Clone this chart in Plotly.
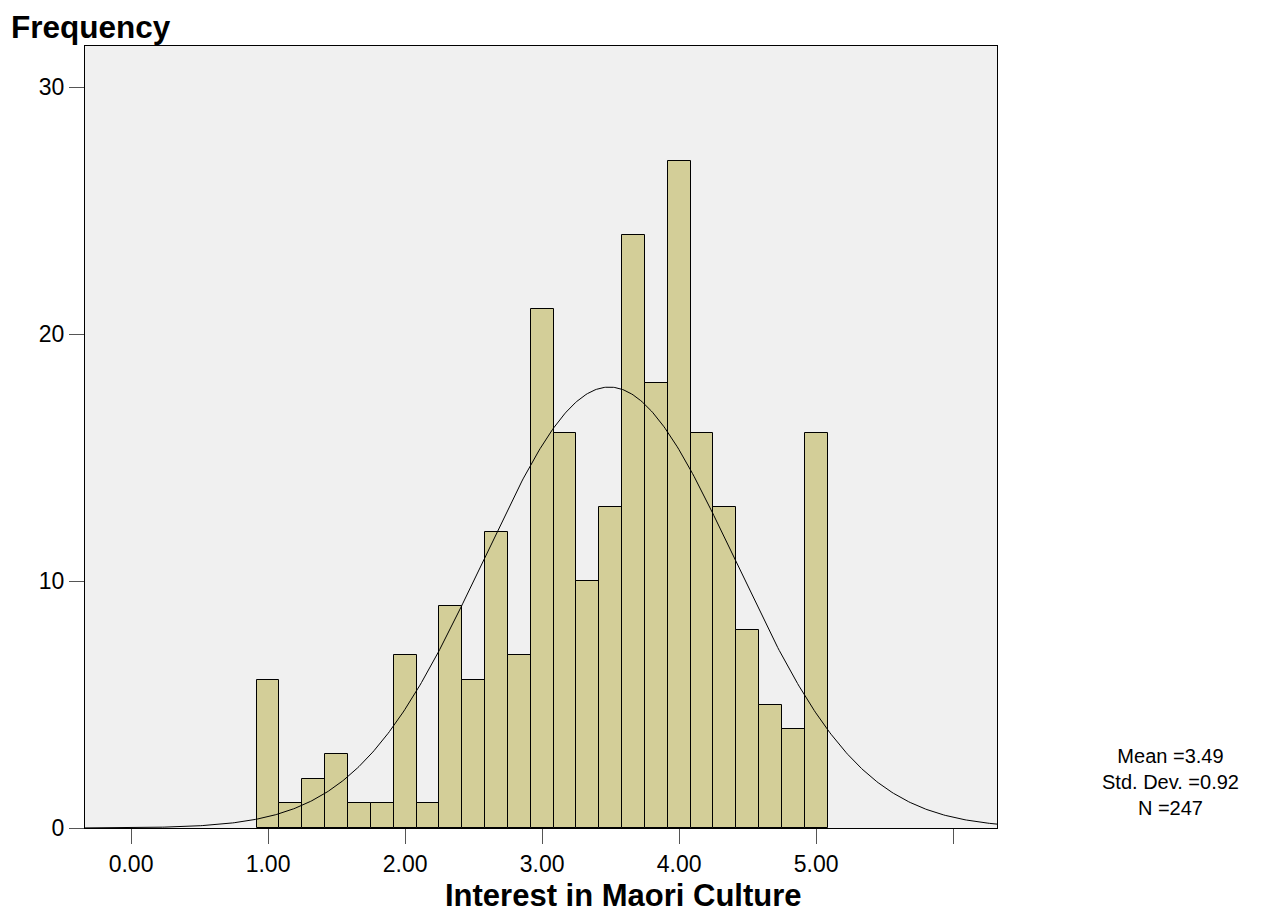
import numpy as np
import plotly.graph_objects as go

bin_centers = [1 + i / 6 for i in range(25)]
counts = [6, 1, 2, 3, 1, 1, 7, 1, 9, 6, 12, 7, 21, 16, 10, 13, 24, 18, 27, 16, 13, 8, 5, 4, 16]
bin_width = 1 / 6
mean_val = 3.49
sd_val = 0.92
n_val = 247
x_tick_vals = [0, 1, 2, 3, 4, 5, 6]
x_tick_text = ["0.00", "1.00", "2.00", "3.00", "4.00", "5.00", ""]
y_tick_vals = [0, 10, 20, 30]
stats_lines = ["Mean =3.49", "Std. Dev. =0.92", "N =247"]

x_min, x_max = -0.336, 6.32
y_max = 31.66

xc = np.linspace(x_min, x_max, 600)
yc = n_val * bin_width / (sd_val * np.sqrt(2 * np.pi)) * np.exp(-0.5 * ((xc - mean_val) / sd_val) ** 2)

fig = go.Figure()
fig.add_trace(go.Bar(x=bin_centers, y=counts, width=bin_width,
                     marker=dict(color="#D3CE98", line=dict(color="black", width=1)),
                     showlegend=False, hoverinfo="skip"))
fig.add_trace(go.Scatter(x=xc, y=yc, mode="lines", line=dict(color="black", width=1),
                         showlegend=False, hoverinfo="skip"))

# plot area in page pixels: left 85, right 997, top 46, bottom 828
PL, PR, PT, PB = 85, 997, 46, 828
def px(x):
    return (x - PL) / (PR - PL)
def py(y):
    return (PB - y) / (PB - PT)

font_fam = "Liberation Sans, Arial, sans-serif"
annotations = [
    dict(text="<b>Frequency</b>", xref="paper", yref="paper",
         x=px(9), y=py(27), xanchor="left", yanchor="middle",
         showarrow=False, font=dict(size=31.5)),
    dict(text="<b>Interest in Maori Culture</b>", xref="paper", yref="paper",
         x=px(623.5), y=py(895), xanchor="center", yanchor="middle",
         showarrow=False, font=dict(size=31)),
    dict(text="<br>".join(stats_lines), xref="paper", yref="paper",
         x=px(1170.5), y=py(782), xanchor="center", yanchor="middle",
         showarrow=False, align="center", font=dict(size=20)),
]

fig.update_layout(
    width=1271, height=914,
    margin=dict(l=77, r=282, t=38, b=94),
    paper_bgcolor="white", plot_bgcolor="#F0F0F0",
    font=dict(family=font_fam, size=23, color="black"),
    bargap=0,
    xaxis=dict(range=[x_min, x_max], tickvals=x_tick_vals, ticktext=x_tick_text,
               ticks="outside", ticklen=15, tickcolor="#555555", tickwidth=1,
               showgrid=False, zeroline=False, showline=True, linecolor="black",
               linewidth=1, mirror=True, tickfont=dict(size=23)),
    yaxis=dict(range=[0, y_max], tickvals=y_tick_vals,
               ticks="outside", ticklen=15, tickcolor="#555555", tickwidth=1,
               showgrid=False, zeroline=False, showline=True, linecolor="black",
               linewidth=1, mirror=True, tickfont=dict(size=23)),
    annotations=annotations,
)
fig.write_html("out.html")
